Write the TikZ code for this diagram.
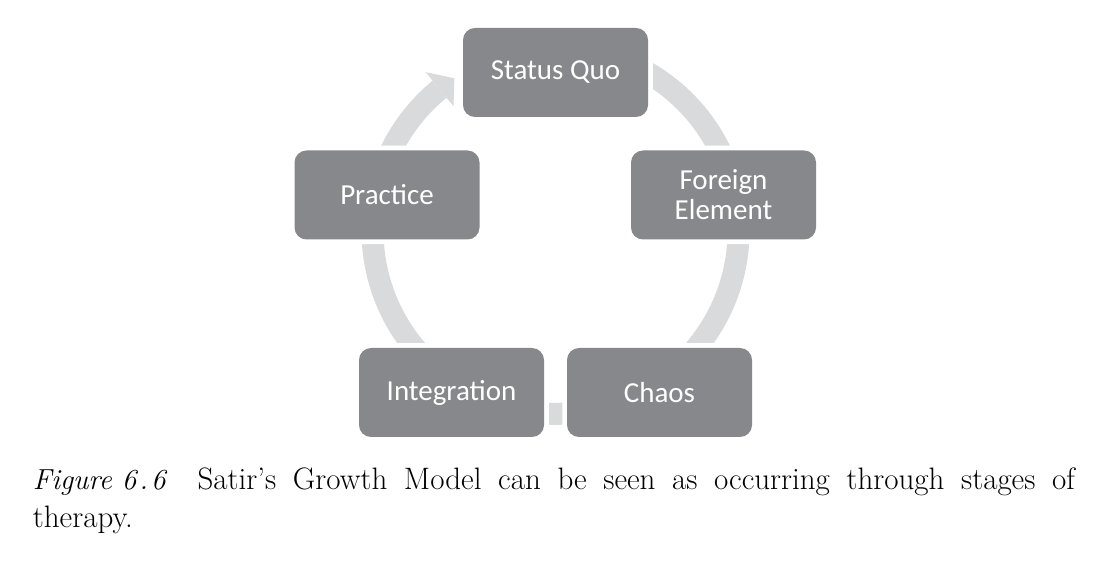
\documentclass[tikz,border=0pt]{standalone}
\usepackage{fontspec}
\newfontfamily\boxfont{Carlito}
\definecolor{boxgray}{RGB}{135,136,140}
\definecolor{ringgray}{RGB}{217,218,220}
\begin{document}
\begin{tikzpicture}[x=1pt,y=1pt,
  stage/.style={rectangle, rounded corners=12pt, fill=boxgray, minimum width=185pt,
    minimum height=89pt, inner sep=0pt, text=white,
    font=\boxfont\fontsize{29}{30}\selectfont, align=center,
    preaction={draw=white, line width=9.5pt}},
  ring/.style={draw=ringgray, line width=22pt},
  ringhead/.style={fill=ringgray},
  capfont/.style={font=\fontsize{31}{38}\selectfont}
]
\useasboundingbox (0,0) rectangle (1098,565);
\coordinate (c) at (555.5,334.2);
% continuous cycle arrow behind the stages
\draw[ring] ([shift={(100:183)}]c) arc[start angle=100, end angle=-230.7, radius=183];
\fill[ringhead] ([shift={(123.55:183)}]c) -- ([shift={(129.3:205)}]c) -- ([shift={(129.3:161)}]c) -- cycle;
% stages
\node[stage] (sq) at (555.5,492.5) {Status Quo};
\node[stage] (fe) at (723.5,370) {Foreign\\Element};
\node[stage] (ch) at (659.5,172.5) {Chaos};
\node[stage] (in) at (451.5,172.5) {Integration};
\node[stage] (pr) at (387,370) {Practice};
% caption
\node[anchor=base west, inner sep=0pt, capfont] (caption) at (32.7,75)
  {\vtop{\hsize=1042pt\parindent=0pt\noindent{\fontsize{29}{38}\selectfont\itshape Figure\kern10pt 6\kern3pt.\kern3pt6}\kern32pt Satir’s Growth Model can be seen as occurring through stages of\linebreak therapy.\par}};
\end{tikzpicture}
\end{document}
